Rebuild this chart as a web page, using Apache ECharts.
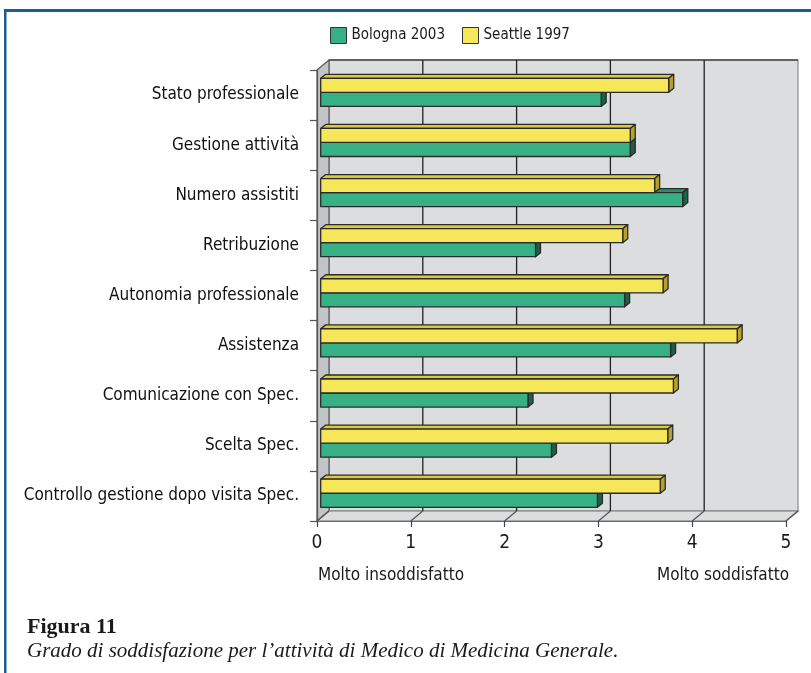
<!DOCTYPE html>
<html>
<head>
<meta charset="utf-8">
<script src="https://cdn.jsdelivr.net/npm/echarts@6/dist/echarts.min.js"></script>
<style>
  html, body { margin: 0; padding: 0; background: #ffffff; }
  #chart { width: 811px; height: 673px; }
</style>
</head>
<body>
<div id="chart"></div>
<script>
// Categories, top to bottom
const categories = [
  'Stato professionale',
  'Gestione attività',
  'Numero assistiti',
  'Retribuzione',
  'Autonomia professionale',
  'Assistenza',
  'Comunicazione con Spec.',
  'Scelta Spec.',
  'Controllo gestione dopo visita Spec.'
];
// Mean satisfaction score (0 = molto insoddisfatto, 5 = molto soddisfatto)
const bologna2003 = [2.99, 3.30, 3.86, 2.29, 3.24, 3.73, 2.21, 2.46, 2.95];
const seattle1997 = [3.71, 3.30, 3.56, 3.22, 3.65, 4.44, 3.76, 3.70, 3.62];
const xTicks = [0, 1, 2, 3, 4, 5];

const NARROW = "'Liberation Sans Narrow', 'DejaVu Sans Condensed', 'Arial Narrow', sans-serif";
const SERIF = "'Liberation Serif', 'DejaVu Serif', serif";

// depth of the box behind the plot (px)
const DX = 12, DY = -10;
// bar placement inside the depth
const BAR_SHIFT_X = 3.7, BAR_SHIFT_Y = -2.7;
const BAR_DX = 5, BAR_DY = -4;

const chart = echarts.init(document.getElementById('chart'), null, { renderer: 'canvas' });

function frameItem(params, api) {
  const cs = params.coordSys;
  const x = cs.x, y = cs.y, w = cs.width, h = cs.height;
  const children = [];
  // back wall
  children.push({ type: 'rect', shape: { x: x + DX, y: y + DY, width: w, height: h },
    style: { fill: '#dcdddf', stroke: '#8a8a8c', lineWidth: 1.2 } });
  children.push({ type: 'line', shape: { x1: x + DX, y1: y + DY, x2: x + w + DX, y2: y + DY },
    style: { stroke: '#444', lineWidth: 1.5 } });
  // left side wall
  children.push({ type: 'polygon', shape: { points: [[x, y], [x + DX, y + DY], [x + DX, y + h + DY], [x, y + h]] },
    style: { fill: '#c3c4c7', stroke: '#555', lineWidth: 1.2 } });
  // floor
  children.push({ type: 'polygon', shape: { points: [[x, y + h], [x + DX, y + h + DY], [x + w + DX, y + h + DY], [x + w, y + h]] },
    style: { fill: '#dcdddf', stroke: '#777', lineWidth: 1.2 } });
  xTicks.forEach(function (t) {
    const px = api.coord([t, 0])[0];
    if (t > 0 && t < xTicks[xTicks.length - 1]) {
      children.push({ type: 'line', shape: { x1: px + DX, y1: y + DY, x2: px + DX, y2: y + h + DY },
        style: { stroke: '#222', lineWidth: 1.3 } });
    }
    children.push({ type: 'line', shape: { x1: px, y1: y + h, x2: px + DX, y2: y + h + DY },
      style: { stroke: '#555', lineWidth: 1.2 } });
  });
  return { type: 'group', children: children };
}

function makeBar(slot, front, top, side) {
  return function (params, api) {
    const v = api.value(0), c = api.value(1);
    const p0 = api.coord([0, c]);
    const p1 = api.coord([v, c]);
    const band = api.size([0, 1])[1];
    const h = band * 0.28;
    const cy = p0[1] + BAR_SHIFT_Y;
    const y0 = slot === 0 ? cy - h : cy;
    const y1 = y0 + h;
    const x0 = p0[0] + BAR_SHIFT_X;
    const x1 = p1[0] + BAR_SHIFT_X;
    const stroke = { stroke: '#2a2a2a', lineWidth: 1.3, lineJoin: 'round' };
    return {
      type: 'group',
      children: [
        { type: 'polygon', shape: { points: [[x0, y0], [x0 + BAR_DX, y0 + BAR_DY], [x1 + BAR_DX, y0 + BAR_DY], [x1, y0]] },
          style: Object.assign({ fill: top }, stroke) },
        { type: 'polygon', shape: { points: [[x1, y0], [x1 + BAR_DX, y0 + BAR_DY], [x1 + BAR_DX, y1 + BAR_DY], [x1, y1]] },
          style: Object.assign({ fill: side }, stroke) },
        { type: 'rect', shape: { x: x0, y: y0, width: x1 - x0, height: h },
          style: Object.assign({ fill: front }, stroke) }
      ]
    };
  };
}

const option = {
  animation: false,
  backgroundColor: '#ffffff',
  grid: { left: 317, top: 70, width: 469, height: 451, containLabel: false },
  legend: {
    left: 325, top: 22,
    itemWidth: 16, itemHeight: 16, itemGap: 17,
    icon: 'rect',
    textStyle: { fontFamily: NARROW, fontSize: 15, color: '#1a1a1a' },
    data: [
      { name: 'Bologna 2003', itemStyle: { borderColor: '#333', borderWidth: 1 } },
      { name: 'Seattle 1997', itemStyle: { borderColor: '#333', borderWidth: 1 } }
    ]
  },
  xAxis: {
    type: 'value', min: 0, max: 5, interval: 1, z: 5,
    axisLine: { show: true, lineStyle: { color: '#666', width: 1.2 } },
    axisTick: { show: true, length: 6, lineStyle: { color: '#444', width: 1.2 } },
    splitLine: { show: false },
    axisLabel: { fontFamily: NARROW, fontSize: 19, color: '#1a1a1a', margin: 13 }
  },
  yAxis: {
    type: 'category', inverse: true, data: categories, z: 5,
    axisLine: { show: true, lineStyle: { color: '#555', width: 1.2 } },
    axisTick: { show: true, length: 7, lineStyle: { color: '#555', width: 1.2 } },
    axisLabel: { fontFamily: NARROW, fontSize: 17, color: '#111', margin: 18 }
  },
  series: [
    {
      name: 'frame', type: 'custom', silent: true, z: 1,
      renderItem: frameItem, data: [[0, 0]], clip: false
    },
    {
      name: 'Bologna 2003', type: 'custom', z: 3, clip: false,
      itemStyle: { color: '#36b084' },
      renderItem: makeBar(1, '#36b084', '#2b8e68', '#1f6048'),
      data: bologna2003.map(function (v, i) { return [v, i]; })
    },
    {
      name: 'Seattle 1997', type: 'custom', z: 4, clip: false,
      itemStyle: { color: '#f6e65a' },
      renderItem: makeBar(0, '#f6e65a', '#dcc93f', '#b7a12c'),
      data: seattle1997.map(function (v, i) { return [v, i]; })
    }
  ],
  graphic: [
    { type: 'rect', shape: { x: 4, y: 9, width: 807, height: 3 }, style: { fill: '#1a5c96' } },
    { type: 'rect', shape: { x: 4, y: 9, width: 2.5, height: 664 }, style: { fill: '#1a5c96' } },
    { type: 'text', left: 318, top: 567, style: { text: 'Molto insoddisfatto', font: '17px ' + NARROW, fill: '#1a1a1a' } },
    { type: 'text', right: 22, top: 567, style: { text: 'Molto soddisfatto', font: '17px ' + NARROW, fill: '#1a1a1a' } },
    { type: 'text', left: 27, top: 616, style: { text: 'Figura 11', font: 'bold 22px ' + SERIF, fill: '#1a1a1a' } },
    { type: 'text', left: 27, top: 641, style: { text: 'Grado di soddisfazione per l\u2019attività di Medico di Medicina Generale.', font: 'italic 21px ' + SERIF, fill: '#1a1a1a' } }
  ]
};

chart.setOption(option);
</script>
</body>
</html>
